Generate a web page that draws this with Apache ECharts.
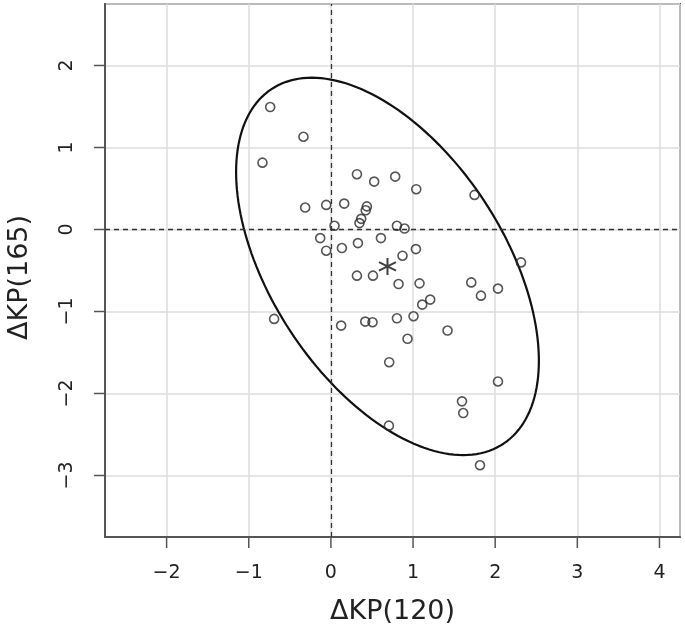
<!DOCTYPE html>
<html>
<head>
<meta charset="utf-8">
<script src="https://cdn.jsdelivr.net/npm/echarts@6/dist/echarts.min.js"></script>
<style>
html,body{margin:0;padding:0;background:#fff;}
#chart{width:685px;height:632px;}
</style>
</head>
<body>
<div id="chart"></div>
<script>
// ---- data ----
const xValues = [-0.739, -0.334, -0.833, 0.317, 0.527, 0.783, 1.039, 1.749, -0.313, -0.057,
  0.162, 0.438, 0.424, 0.369, 0.348, 0.044, -0.130, -0.057, 0.134, 0.329,
  0.609, 0.804, 0.897, 1.035, 0.872, 2.314, 0.317, 0.512, 0.824, 1.079,
  1.709, 1.827, 2.034, 1.112, 1.209, 0.804, 1.006, 1.420, 0.933, 0.710,
  2.034, -0.691, 0.125, 0.418, 0.507, 1.596, 1.611, 0.706, 1.815];
const yValues = [1.493, 1.131, 0.815, 0.674, 0.584, 0.645, 0.491, 0.422, 0.268, 0.300,
  0.316, 0.282, 0.234, 0.130, 0.078, 0.045, -0.105, -0.259, -0.226, -0.166,
  -0.105, 0.045, 0.012, -0.239, -0.320, -0.401, -0.563, -0.563, -0.665, -0.657,
  -0.645, -0.807, -0.721, -0.916, -0.855, -1.083, -1.058, -1.232, -1.333, -1.618,
  -1.853, -1.090, -1.172, -1.123, -1.131, -2.096, -2.238, -2.392, -2.875];
const centerPoint = [0.689, -0.450];
// ellipse: centre, horizontal / vertical half-extent and covariance term (data units)
const ellipseCenter = [0.689, -0.450];
const ellipseSdX = 1.843;
const ellipseSdY = 2.301;
const ellipseCov = -2.12;
const xTicks = [-2, -1, 0, 1, 2, 3, 4];
const yTicks = [-3, -2, -1, 0, 1, 2];
const xRange = [-2.75, 4.25];
const yRange = [-3.75, 2.75];
const xName = 'ΔKP(120)';
const yName = 'ΔKP(165)';

// ---- build ----
const points = xValues.map((x, i) => [x, yValues[i]]);
const a = ellipseSdX;
const b = ellipseCov / a;
const c = Math.sqrt(ellipseSdY * ellipseSdY - b * b);
const ellipsePts = [];
for (let k = 0; k <= 180; k++) {
  const t = 2 * Math.PI * k / 180;
  const u = Math.cos(t), v = Math.sin(t);
  ellipsePts.push([ellipseCenter[0] + a * u, ellipseCenter[1] + b * u + c * v]);
}

const FONT = 'DejaVu Sans';
const TICK_LEN = 11;
const TICK_STYLE = { stroke: '#555', lineWidth: 1.5 };
const fmt = v => (v < 0 ? '\u2212' + Math.abs(v) : String(v));

const chart = echarts.init(document.getElementById('chart'), null, { renderer: 'canvas' });
chart.setOption({
  animation: false,
  backgroundColor: '#fff',
  grid: { left: 105, right: 5, top: 4, bottom: 95, show: true, borderColor: '#555', borderWidth: 2,
    backgroundColor: 'transparent', outerBounds: { left: -200, right: -200, top: -200, bottom: -200 } },
  xAxis: {
    type: 'value',
    min: xRange[0], max: xRange[1], splitNumber: 7,
    name: xName, nameLocation: 'middle', nameGap: 61,
    nameTextStyle: { fontFamily: FONT, fontSize: 27, color: '#222' },
    axisLine: { show: true, onZero: false, lineStyle: { color: '#555', width: 2 } },
    axisTick: { show: false },
    splitLine: { show: true, lineStyle: { color: '#dcdcdc', width: 1.5 } },
    axisLabel: { customValues: xTicks, fontFamily: FONT, fontSize: 19, color: '#222', margin: 27, formatter: fmt }
  },
  yAxis: {
    type: 'value',
    min: yRange[0], max: yRange[1], splitNumber: 6,
    name: yName, nameLocation: 'middle', nameGap: 72,
    nameTextStyle: { fontFamily: FONT, fontSize: 27, color: '#222', padding: [0, 14, 0, 0] },
    axisLine: { show: true, onZero: false, lineStyle: { color: '#555', width: 2 } },
    axisTick: { show: false },
    splitLine: { show: true, lineStyle: { color: '#dcdcdc', width: 1.5 } },
    axisLabel: { customValues: yTicks, rotate: 90, fontFamily: FONT, fontSize: 19, color: '#222', margin: 28, formatter: fmt }
  },
  series: [
    {
      type: 'line',
      data: ellipsePts,
      showSymbol: false,
      silent: true,
      lineStyle: { color: '#111', width: 2.2 },
      z: 3
    },
    {
      type: 'scatter',
      data: points,
      symbol: 'circle',
      symbolSize: 9,
      itemStyle: { color: 'rgba(0,0,0,0)', borderColor: '#2a2a2a', borderWidth: 1.6 },
      z: 4,
      markLine: {
        silent: true,
        symbol: 'none',
        label: { show: false },
        lineStyle: { color: '#333', width: 1.3, type: [5, 4] },
        data: [{ xAxis: 0 }, { yAxis: 0 }]
      }
    },
    {
      type: 'scatter',
      data: [centerPoint],
      symbol: 'path://M0,-10L0,10M-8.66,-5L8.66,5M-8.66,5L8.66,-5',
      symbolSize: 17,
      itemStyle: { color: '#111', borderColor: '#111', borderWidth: 2 },
      z: 5
    }
  ]
});

// axis tick marks: positions obtained from the axis scales after layout
const yBottomPx = chart.convertToPixel({ yAxisIndex: 0 }, yRange[0]);
const xLeftPx = chart.convertToPixel({ xAxisIndex: 0 }, xRange[0]);
const tickGraphics = [];
xTicks.forEach(v => {
  const px = chart.convertToPixel({ xAxisIndex: 0 }, v);
  tickGraphics.push({ type: 'line', silent: true, z: 100, zlevel: 1,
    shape: { x1: px, y1: yBottomPx, x2: px, y2: yBottomPx + TICK_LEN }, style: TICK_STYLE });
});
yTicks.forEach(v => {
  const py = chart.convertToPixel({ yAxisIndex: 0 }, v);
  tickGraphics.push({ type: 'line', silent: true, z: 100, zlevel: 1,
    shape: { x1: xLeftPx, y1: py, x2: xLeftPx - TICK_LEN, y2: py }, style: TICK_STYLE });
});
chart.setOption({ graphic: { elements: tickGraphics } });
</script>
</body>
</html>
